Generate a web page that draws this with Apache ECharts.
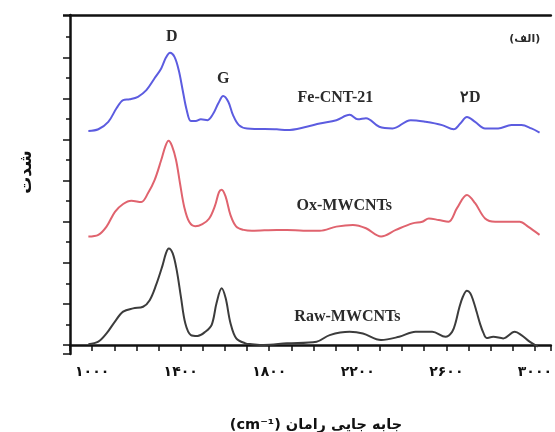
<!DOCTYPE html>
<html>
<head>
<meta charset="utf-8">
<script src="https://cdn.jsdelivr.net/npm/echarts@6/dist/echarts.min.js"></script>
<style>
html, body { margin: 0; padding: 0; background: #fff; }
#raman { width: 555px; height: 432px; }
</style>
</head>
<body>
<div id="raman"></div>
<script>
// Raman shift (cm-1) and intensity (stacked, arbitrary units) for each sample
var feX = [983, 1028, 1073, 1110, 1140, 1170, 1207, 1245, 1282, 1312, 1334, 1352, 1372, 1391, 1409, 1427, 1446, 1468, 1491, 1521, 1546, 1570, 1592, 1615, 1636, 1663, 1700, 1834, 1880, 1969, 2028, 2103, 2163, 2200, 2237, 2297, 2357, 2439, 2506, 2581, 2633, 2663, 2693, 2730, 2775, 2834, 2894, 2939, 2984, 3021];
var feY = [5.21, 5.25, 5.43, 5.76, 5.96, 5.98, 6.04, 6.20, 6.49, 6.73, 7.00, 7.11, 7.01, 6.69, 6.20, 5.72, 5.45, 5.45, 5.49, 5.47, 5.62, 5.88, 6.06, 5.92, 5.60, 5.35, 5.27, 5.25, 5.23, 5.31, 5.39, 5.47, 5.60, 5.49, 5.52, 5.31, 5.27, 5.47, 5.43, 5.35, 5.25, 5.39, 5.55, 5.43, 5.27, 5.27, 5.35, 5.35, 5.27, 5.17];

var oxX = [983, 1028, 1065, 1103, 1140, 1177, 1222, 1252, 1282, 1312, 1331, 1345, 1361, 1379, 1397, 1416, 1439, 1466, 1498, 1528, 1555, 1573, 1585, 1603, 1625, 1651, 1685, 1722, 1834, 1880, 1954, 2028, 2103, 2178, 2237, 2305, 2372, 2447, 2491, 2521, 2566, 2610, 2648, 2693, 2730, 2775, 2820, 2879, 2931, 2969, 3021];
var oxY = [2.64, 2.68, 2.88, 3.24, 3.43, 3.51, 3.48, 3.69, 4.01, 4.50, 4.84, 4.97, 4.84, 4.50, 3.93, 3.36, 2.99, 2.89, 2.94, 3.07, 3.39, 3.72, 3.78, 3.61, 3.16, 2.88, 2.80, 2.78, 2.80, 2.80, 2.78, 2.78, 2.88, 2.92, 2.84, 2.64, 2.80, 2.96, 3.00, 3.08, 3.04, 3.00, 3.33, 3.65, 3.45, 3.08, 3.00, 3.00, 3.00, 2.88, 2.68];

var rawX = [983, 1028, 1065, 1103, 1140, 1185, 1230, 1260, 1289, 1316, 1334, 1346, 1364, 1382, 1401, 1421, 1446, 1476, 1511, 1540, 1562, 1585, 1603, 1625, 1651, 1692, 1722, 1775, 1880, 2014, 2073, 2163, 2223, 2305, 2387, 2461, 2536, 2596, 2626, 2642, 2658, 2675, 2693, 2708, 2722, 2737, 2752, 2767, 2782, 2812, 2857, 2909, 2939, 2976, 3013];
var rawY = [0.02, 0.08, 0.28, 0.57, 0.81, 0.89, 0.93, 1.09, 1.46, 1.90, 2.24, 2.35, 2.23, 1.82, 1.17, 0.52, 0.24, 0.22, 0.32, 0.49, 1.02, 1.38, 1.14, 0.53, 0.16, 0.04, 0.02, 0.00, 0.04, 0.08, 0.24, 0.32, 0.28, 0.12, 0.20, 0.32, 0.32, 0.20, 0.32, 0.55, 0.90, 1.18, 1.32, 1.26, 1.07, 0.80, 0.52, 0.30, 0.17, 0.20, 0.16, 0.32, 0.24, 0.08, -0.04];

// annotations in data coordinates
var noteText = ['D', 'G', 'Fe-CNT-21', '۲D', 'Ox-MWCNTs', 'Raw-MWCNTs', '(الف)'];
var noteX = [1360, 1592, 2099, 2708, 2139, 2153, 2954];
var noteY = [7.49, 6.47, 6.01, 6.01, 3.38, 0.68, 7.45];

var xLabels = [1000, 1400, 1800, 2200, 2600, 3000];

function toFa(n) {
  return String(n).replace(/[0-9]/g, function (d) { return '۰۱۲۳۴۵۶۷۸۹'[d]; });
}
function pairs(xs, ys) {
  return xs.map(function (x, i) { return [x, ys[i]]; });
}

var dom = document.getElementById('raman');
var myChart = echarts.init(dom, null, { renderer: 'canvas' });

var serif = '"Liberation Serif", "DejaVu Serif", serif';
var fa = '"DejaVu Sans", sans-serif';

var notes = noteText.map(function (t, i) {
  return {
    name: t,
    coord: [noteX[i], noteY[i]],
    label: {
      fontFamily: t === '(الف)' ? fa : serif,
      fontSize: t === '(الف)' ? 11 : (t.length > 2 ? 16 : 16)
    }
  };
});

var xMin = 900, xMax = 3072;

var option = {
  animation: false,
  grid: {
    left: 70,
    top: 15,
    right: 0,
    bottom: 78
  },
  xAxis: [
    {
      type: 'value',
      min: xMin,
      max: xMax,
      interval: 100,
      splitLine: { show: false },
      axisLine: { lineStyle: { color: '#111', width: 2.5 } },
      axisTick: { inside: false, length: 6, lineStyle: { color: '#111', width: 1.5 } },
      axisLabel: {
        margin: 11,
        color: '#111',
        fontFamily: fa,
        fontWeight: 'bold',
        fontSize: 14,
        formatter: function (v) {
          return xLabels.indexOf(v) >= 0 ? toFa(v) : '';
        }
      }
    },
    {
      // top frame line
      type: 'value',
      position: 'top',
      min: xMin,
      max: xMax,
      splitLine: { show: false },
      axisLine: { lineStyle: { color: '#111', width: 2.5 } },
      axisTick: { show: false },
      axisLabel: { show: false }
    }
  ],
  yAxis: {
    type: 'value',
    min: -0.22,
    max: 8.03,
    splitNumber: 8,
    splitLine: { show: false },
    axisLine: { lineStyle: { color: '#111', width: 2.5 } },
    axisTick: { length: 7, lineStyle: { color: '#111', width: 1.5 } },
    minorTick: { show: true, splitNumber: 2, length: 4, lineStyle: { color: '#111', width: 1.5 } },
    axisLabel: { show: false }
  },
  graphic: [
    {
      type: 'text',
      x: 27,
      y: 172,
      rotation: Math.PI / 2,
      style: {
        text: 'شدت',
        font: 'bold 17px "DejaVu Sans", sans-serif',
        fill: '#111',
        textAlign: 'center',
        textVerticalAlign: 'middle'
      }
    },
    {
      type: 'text',
      x: 316,
      y: 425,
      style: {
        text: '(cm⁻¹) جابه جایی رامان',
        font: 'bold 14.5px "DejaVu Sans", sans-serif',
        fill: '#111',
        textAlign: 'center',
        textVerticalAlign: 'middle'
      }
    }
  ],
  series: [
    {
      name: 'Fe-CNT-21',
      type: 'line',
      data: pairs(feX, feY),
      smooth: 0.35,
      showSymbol: false,
      lineStyle: { color: '#5c5ce0', width: 2 }
    },
    {
      name: 'Ox-MWCNTs',
      type: 'line',
      data: pairs(oxX, oxY),
      smooth: 0.35,
      showSymbol: false,
      lineStyle: { color: '#e0636e', width: 2 }
    },
    {
      name: 'Raw-MWCNTs',
      type: 'line',
      data: pairs(rawX, rawY),
      smooth: 0.35,
      showSymbol: false,
      lineStyle: { color: '#3c3c3c', width: 2 },
      markPoint: {
        symbol: 'rect',
        symbolSize: 1,
        silent: true,
        itemStyle: { color: 'transparent' },
        label: {
          show: true,
          position: 'inside',
          formatter: '{b}',
          color: '#2b2b2b',
          fontWeight: 'bold'
        },
        data: notes
      }
    }
  ]
};

if (option && typeof option === 'object') {
  myChart.setOption(option);
}
</script>
</body>
</html>
